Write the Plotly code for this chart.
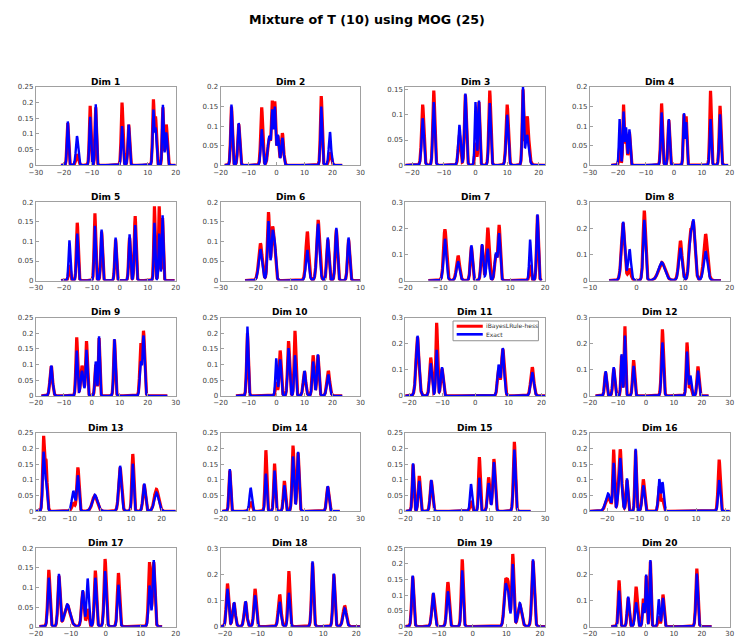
import numpy as np
import plotly.graph_objects as go

# ---- data: peak locations and peak heights of each marginal density ----
TITLES = [f"Dim {i}" for i in range(1, 21)]
SERIES_NAMES = ["iBayesLRule-hess", "Exact"]

LOCS = [
    [-18.6, -15.3, -10.6, -8.6, 0.8, 3.2, 12.0, 12.8, 15.4, 16.6],
    [-16.1, -13.5, -5.3, -2.6, -1.5, -0.6, 0.5, 2.1, 16.0, 19.1],
    [-16.7, -13.2, -5.1, -3.2, 0.0, 1.1, 4.5, 10.0, 15.0, 16.3],
    [-19.4, -18.0, -17.1, -15.9, -4.4, -1.8, 3.6, 4.4, 13.1, 16.5],
    [-18.0, -15.2, -8.9, -6.5, -1.5, 3.5, 5.5, 12.4, 14.1, 15.3],
    [-18.6, -16.3, -15.2, -14.6, -5.2, -2.1, 0.65, 3.1, 6.6],
    [-8.65, -4.9, -1.1, 1.95, 3.6, 5.9, 6.85, 15.7, 17.8],
    [-2.9, -1.5, 1.65, 5.4, 9.4, 11.5, 12.2, 14.8],
    [-14.5, -5.4, -3.5, -1.9, 1.4, 2.6, 8.1, 17.5, 18.5],
    [-10.4, -0.1, 1.3, 4.3, 6.6, 10.0, 13.1, 14.8, 18.5],
    [-17.5, -13.5, -11.7, -10.1, 7.0, 8.3, 17.2],
    [-14.4, -11.5, -8.7, -7.5, -4.4, 5.9, 14.7, 15.9, 18.6],
    [-18.5, -17.7, -8.8, -7.3, -1.8, 6.45, 10.6, 14.3, 18.3],
    [-16.7, -9.25, -3.8, -0.7, 2.8, 5.9, 7.7, 18.3],
    [-17.2, -15.0, -10.7, 3.5, 6.5, 9.8, 11.7, 19.0],
    [-19.7, -17.8, -15.6, -13.3, -10.4, -7.8, -2.4, -1.3, 17.8],
    [-16.3, -13.4, -11.0, -6.6, -5.2, -3.0, -0.2, 3.6, 12.5, 13.7],
    [-19.2, -17.2, -13.7, -10.8, -3.3, -0.5, 6.7, 13.2, 16.5],
    [-17.8, -11.7, -7.35, -3.1, 9.7, 10.5, 11.9, 14.0, 17.9],
    [-9.6, -6.35, -3.5, -0.9, 0.1, 1.6, 4.6, 6.1, 18.2],
]

# peak heights of the approximation (iBayesLRule-hess)
RED_PEAKS = [
    [0.135, 0.035, 0.19, 0.185, 0.20, 0.13, 0.21, 0.155, 0.185, 0.13],
    [0.15, 0.105, 0.148, 0.07, 0.165, 0.163, 0.075, 0.082, 0.177, 0.033],
    [0.12, 0.148, 0.06, 0.14, 0.045, 0.125, 0.148, 0.12, 0.15, 0.097],
    [0.045, 0.155, 0.08, 0.085, 0.158, 0.115, 0.13, 0.125, 0.19, 0.152],
    [0.04, 0.148, 0.172, 0.125, 0.105, 0.11, 0.165, 0.19, 0.19, 0.16],
    [0.095, 0.175, 0.135, 0.11, 0.125, 0.155, 0.105, 0.13, 0.105],
    [0.197, 0.095, 0.13, 0.135, 0.203, 0.1, 0.213, 0.06, 0.25],
    [0.22, 0.045, 0.268, 0.07, 0.152, 0.187, 0.225, 0.178],
    [0.095, 0.187, 0.097, 0.175, 0.1, 0.185, 0.18, 0.168, 0.208],
    [0.2, 0.045, 0.145, 0.175, 0.208, 0.078, 0.13, 0.13, 0.08],
    [0.225, 0.147, 0.28, 0.105, 0.1, 0.18, 0.11],
    [0.09, 0.105, 0.155, 0.267, 0.137, 0.255, 0.205, 0.04, 0.113],
    [0.24, 0.165, 0.025, 0.14, 0.05, 0.14, 0.183, 0.085, 0.07],
    [0.13, 0.03, 0.195, 0.152, 0.097, 0.21, 0.187, 0.078],
    [0.15, 0.113, 0.098, 0.033, 0.173, 0.108, 0.167, 0.222],
    [0.047, 0.197, 0.198, 0.1, 0.195, 0.102, 0.08, 0.04, 0.165],
    [0.145, 0.13, 0.055, 0.09, 0.045, 0.143, 0.173, 0.137, 0.165, 0.165],
    [0.165, 0.09, 0.095, 0.145, 0.123, 0.213, 0.245, 0.2, 0.08],
    [0.16, 0.105, 0.142, 0.215, 0.15, 0.145, 0.232, 0.07, 0.21],
    [0.177, 0.11, 0.153, 0.107, 0.195, 0.25, 0.04, 0.123, 0.222],
]

# peak heights of the exact marginal
BLUE_PEAKS = [
    [0.14, 0.093, 0.155, 0.195, 0.125, 0.13, 0.178, 0.12, 0.193, 0.105],
    [0.155, 0.108, 0.092, 0.075, 0.143, 0.15, 0.078, 0.07, 0.15, 0.085],
    [0.093, 0.125, 0.08, 0.142, 0.125, 0.128, 0.123, 0.1, 0.155, 0.06],
    [0.118, 0.137, 0.097, 0.092, 0.135, 0.118, 0.133, 0.11, 0.118, 0.13],
    [0.103, 0.12, 0.14, 0.13, 0.11, 0.118, 0.142, 0.148, 0.12, 0.167],
    [0.08, 0.152, 0.125, 0.11, 0.078, 0.145, 0.11, 0.135, 0.11],
    [0.16, 0.073, 0.135, 0.14, 0.122, 0.107, 0.182, 0.157, 0.254],
    [0.225, 0.12, 0.233, 0.07, 0.125, 0.175, 0.233, 0.112],
    [0.097, 0.145, 0.08, 0.147, 0.11, 0.19, 0.182, 0.11, 0.193],
    [0.222, 0.12, 0.117, 0.153, 0.13, 0.08, 0.11, 0.133, 0.068],
    [0.23, 0.125, 0.177, 0.11, 0.12, 0.183, 0.09],
    [0.095, 0.11, 0.16, 0.232, 0.115, 0.205, 0.17, 0.078, 0.097],
    [0.19, 0.1, 0.065, 0.115, 0.053, 0.145, 0.152, 0.088, 0.06],
    [0.135, 0.075, 0.12, 0.13, 0.083, 0.175, 0.19, 0.08],
    [0.153, 0.097, 0.1, 0.087, 0.107, 0.09, 0.157, 0.197],
    [0.057, 0.155, 0.17, 0.105, 0.2, 0.083, 0.103, 0.093, 0.1],
    [0.125, 0.135, 0.057, 0.093, 0.123, 0.125, 0.142, 0.107, 0.105, 0.17],
    [0.145, 0.093, 0.097, 0.12, 0.095, 0.13, 0.25, 0.203, 0.07],
    [0.163, 0.108, 0.113, 0.18, 0.135, 0.12, 0.2, 0.075, 0.215],
    [0.138, 0.115, 0.093, 0.09, 0.2, 0.255, 0.105, 0.11, 0.203],
]

# component scales
SCALES = [
    [0.28, 0.4, 0.28, 0.25, 0.3, 0.3, 0.28, 0.3, 0.25, 0.35],
    [0.3, 0.35, 0.35, 0.5, 0.3, 0.3, 0.35, 0.4, 0.3, 0.4],
    [0.35, 0.3, 0.35, 0.3, 0.25, 0.25, 0.3, 0.35, 0.25, 0.5],
    [0.25, 0.25, 0.3, 0.3, 0.3, 0.3, 0.25, 0.25, 0.28, 0.3],
    [0.3, 0.3, 0.28, 0.3, 0.3, 0.3, 0.3, 0.25, 0.25, 0.25],
    [0.5, 0.3, 0.3, 0.35, 0.4, 0.4, 0.3, 0.3, 0.3],
    [0.4, 0.45, 0.3, 0.3, 0.35, 0.35, 0.3, 0.25, 0.25],
    [0.35, 0.3, 0.25, 0.7, 0.35, 0.3, 0.35, 0.4],
    [0.45, 0.3, 0.45, 0.3, 0.3, 0.25, 0.3, 0.35, 0.35],
    [0.3, 0.3, 0.35, 0.35, 0.3, 0.45, 0.35, 0.35, 0.5],
    [0.45, 0.35, 0.25, 0.35, 0.35, 0.4, 0.45],
    [0.35, 0.35, 0.25, 0.25, 0.35, 0.35, 0.3, 0.35, 0.35],
    [0.3, 0.35, 0.5, 0.35, 0.8, 0.45, 0.3, 0.4, 0.7],
    [0.3, 0.4, 0.3, 0.3, 0.35, 0.35, 0.35, 0.4],
    [0.3, 0.35, 0.4, 0.35, 0.3, 0.4, 0.4, 0.35],
    [0.8, 0.28, 0.5, 0.3, 0.25, 0.4, 0.35, 0.35, 0.35],
    [0.3, 0.3, 0.8, 0.35, 0.3, 0.3, 0.3, 0.3, 0.3, 0.3],
    [0.35, 0.4, 0.4, 0.35, 0.4, 0.3, 0.3, 0.3, 0.5],
    [0.3, 0.4, 0.35, 0.28, 0.4, 0.4, 0.3, 0.55, 0.35],
    [0.3, 0.35, 0.4, 0.3, 0.25, 0.25, 0.3, 0.35, 0.35],
]

# evaluation interval of each density
CURVE_SPANS = [
    (-21, 20), (-18.5, 23.5), (-22.2, 22.0), (-22.4, 19.4),
    (-21, 19.6), (-23, 10), (-13.4, 19), (-5.9, 18.1),
    (-18, 27), (-14.5, 23.5), (-21.2, 21.1), (-18, 22.4),
    (-21, 24.6), (-19.4, 22.6), (-19.8, 24.8), (-25.8, 21.4),
    (-19, 16.1), (-21.3, 21.3), (-20, 21.5), (-12.4, 23.5),
]

X_RANGES = [
    (-30, 20), (-20, 30), (-22.2, 22.0), (-30, 20),
    (-30, 20), (-30, 10), (-20, 20), (-10, 20),
    (-20, 30), (-20, 30), (-21.2, 21.1), (-20, 30),
    (-21, 24.6), (-20, 30), (-20, 30), (-25.8, 21.4),
    (-20, 20), (-21.3, 21.3), (-20, 21.5), (-20, 30),
]

Y_MAX = [0.25, 0.2, 0.155, 0.2, 0.2, 0.2, 0.3, 0.3, 0.25, 0.25,
         0.3, 0.3, 0.25, 0.25, 0.25, 0.25, 0.2, 0.3, 0.25, 0.3]
Y_DTICK = [0.05, 0.05, 0.05, 0.05, 0.05, 0.05, 0.1, 0.1, 0.05, 0.05,
           0.1, 0.1, 0.05, 0.05, 0.05, 0.05, 0.05, 0.1, 0.05, 0.1]

NU = 10.0
RED, BLUE = "#ff0000", "#0000ff"


def t_kernel(z):
    return (1.0 + z * z / NU) ** (-(NU + 1.0) / 2.0)


def mixture_curve(x, locs, peaks, scales):
    """Student-t mixture whose maxima sit at the given peak heights."""
    locs = np.asarray(locs, float)
    peaks = np.asarray(peaks, float)
    scales = np.asarray(scales, float)
    K = t_kernel((locs[:, None] - locs[None, :]) / scales[None, :])
    amps = np.clip(np.linalg.solve(K, peaks), 0, None)
    return (amps[None, :] * t_kernel((x[:, None] - locs[None, :]) / scales[None, :])).sum(axis=1)


# ---- layout geometry (pixels) ----
W, H = 735, 641
COL_LEFT = [29.3, 216.8, 404.3, 591.8]
AX_W = 142.0
ROW_TOP = [84.0, 200.8, 317.6, 434.4, 551.2]
AX_H = 79.3


def px_x(p):
    return p / W


def px_y(p):
    return 1 - p / H


fig = go.Figure()
layout = dict(
    width=W, height=H,
    margin=dict(l=0, r=0, t=0, b=0),
    paper_bgcolor="white", plot_bgcolor="white",
    font=dict(family="DejaVu Sans", size=7, color="#404040"),
    showlegend=False,
)
annotations = []
shapes = []

for i in range(20):
    r, c = divmod(i, 4)
    n = i + 1
    xs = np.linspace(CURVE_SPANS[i][0], CURVE_SPANS[i][1], 1600)
    red = mixture_curve(xs, LOCS[i], RED_PEAKS[i], SCALES[i])
    blue = mixture_curve(xs, LOCS[i], BLUE_PEAKS[i], SCALES[i])
    xa = "x" if n == 1 else f"x{n}"
    ya = "y" if n == 1 else f"y{n}"
    fig.add_trace(go.Scatter(x=xs, y=red, mode="lines", xaxis=xa, yaxis=ya,
                             line=dict(color=RED, width=3.2),
                             name=SERIES_NAMES[0], hoverinfo="skip"))
    fig.add_trace(go.Scatter(x=xs, y=blue, mode="lines", xaxis=xa, yaxis=ya,
                             line=dict(color=BLUE, width=2.4),
                             name=SERIES_NAMES[1], hoverinfo="skip"))

    x0 = px_x(COL_LEFT[c])
    x1 = px_x(COL_LEFT[c] + AX_W)
    y1 = px_y(ROW_TOP[r])
    y0 = px_y(ROW_TOP[r] + AX_H)
    common = dict(showline=True, mirror=True, linecolor="#a0a0a0", linewidth=1,
                  ticks="inside", ticklen=3, tickcolor="#a0a0a0",
                  showgrid=False, zeroline=False,
                  tickfont=dict(size=7, color="#404040"))
    layout["xaxis" if n == 1 else f"xaxis{n}"] = dict(
        domain=[x0, x1], anchor=ya, range=list(X_RANGES[i]),
        tick0=0, dtick=10, **common)
    layout["yaxis" if n == 1 else f"yaxis{n}"] = dict(
        domain=[y0, y1], anchor=xa, range=[0, Y_MAX[i]],
        tick0=0, dtick=Y_DTICK[i], **common)
    annotations.append(dict(
        text=f"<b>{TITLES[i]}</b>", x=(x0 + x1) / 2, y=px_y(ROW_TOP[r] - 5.5),
        xref="paper", yref="paper", xanchor="center", yanchor="middle",
        showarrow=False, font=dict(size=9, color="black")))

annotations.append(dict(
    text="<b>Mixture of T (10) using MOG (25)</b>", x=px_x(365.5), y=px_y(16),
    xref="paper", yref="paper", xanchor="center", yanchor="middle",
    showarrow=False, font=dict(size=12.7, color="black")))

# compact legend box inside the Dim 11 panel
LEG_L, LEG_R, LEG_T, LEG_B = 452.8, 539.5, 321.0, 341.0
shapes.append(dict(type="rect", xref="paper", yref="paper",
                   x0=px_x(LEG_L), x1=px_x(LEG_R), y0=px_y(LEG_B), y1=px_y(LEG_T),
                   line=dict(color="#909090", width=1), fillcolor="white", layer="above"))
for k, (name, col, yy, lw) in enumerate([(SERIES_NAMES[0], RED, 326.3, 3.0),
                                         (SERIES_NAMES[1], BLUE, 334.5, 2.6)]):
    shapes.append(dict(type="line", xref="paper", yref="paper",
                       x0=px_x(456.5), x1=px_x(483.0), y0=px_y(yy), y1=px_y(yy),
                       line=dict(color=col, width=lw), layer="above"))
    annotations.append(dict(
        text=name, x=px_x(484.5), y=px_y(yy), xref="paper", yref="paper",
        xanchor="left", yanchor="middle", showarrow=False,
        font=dict(size=6, color="#303030")))

layout["annotations"] = annotations
layout["shapes"] = shapes
fig.update_layout(**layout)
fig.write_html("out.html")
